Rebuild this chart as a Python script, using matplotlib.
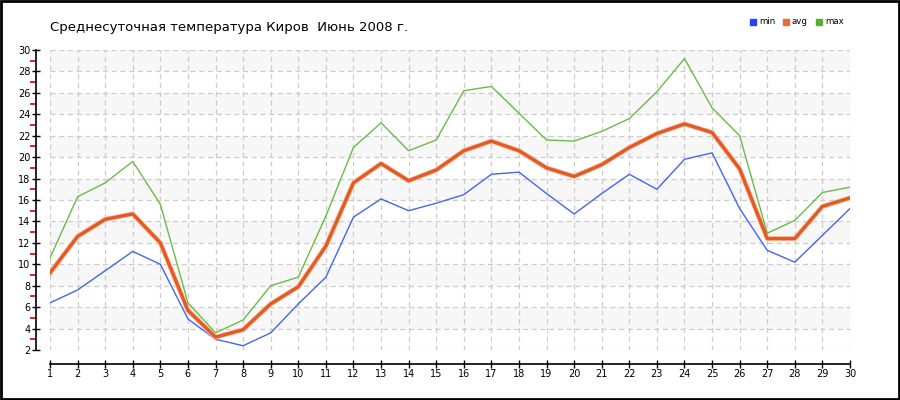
import matplotlib
matplotlib.use("Agg")
import matplotlib.pyplot as plt
from matplotlib.patches import Rectangle
from matplotlib.ticker import MultipleLocator
import numpy as np

days = list(range(1, 31))
t_min = [6.4, 7.6, 9.4, 11.2, 10.0, 4.9, 3.0, 2.4, 3.6, 6.3,
         8.8, 14.4, 16.1, 15.0, 15.7, 16.5, 18.4, 18.6, 16.6, 14.7,
         16.6, 18.4, 17.0, 19.8, 20.4, 15.2, 11.3, 10.2, 12.7, 15.2]
t_avg = [9.2, 12.6, 14.2, 14.7, 12.0, 5.7, 3.2, 3.9, 6.3, 7.9,
         11.7, 17.6, 19.4, 17.8, 18.8, 20.6, 21.5, 20.6, 19.0, 18.2,
         19.3, 20.9, 22.2, 23.1, 22.3, 18.9, 12.4, 12.4, 15.4, 16.2]
t_max = [10.6, 16.3, 17.6, 19.6, 15.6, 6.4, 3.6, 4.8, 8.0, 8.8,
         14.5, 20.9, 23.2, 20.6, 21.6, 26.2, 26.6, 24.1, 21.6, 21.5,
         22.4, 23.6, 26.1, 29.2, 24.6, 22.0, 12.9, 14.1, 16.7, 17.2]
title = "Среднесуточная температура Киров  Июнь 2008 г."
legend_labels = ["min", "avg", "max"]
colors = ["#4466ee", "#e45a24", "#6bbb48"]
legend_colors = ["#2244ee", "#ee6a30", "#55b030"]

fig = plt.figure(figsize=(9, 4), dpi=100)
ax = fig.add_axes([50/900, 50/400, 800/900, 300/400])

ax.set_xlim(1, 30)
ax.set_ylim(2, 30)

# alternating bands
for lo in range(4, 30, 4):
    ax.axhspan(lo, lo + 2, color="#f7f7f7", zorder=0, lw=0)

ax.grid(True, which="major", color="#cccccc", linestyle=(0, (4, 3)), linewidth=0.9, zorder=1)

ax.plot(days, t_min, color=colors[0], lw=1, zorder=3)
ax.plot(days, t_avg, color="#f6c2a8", lw=3.6, zorder=3)
ax.plot(days, t_avg, color=colors[1], lw=2.4, zorder=4)
ax.plot(days, t_max, color=colors[2], lw=1, zorder=3)

for s in ["top", "right"]:
    ax.spines[s].set_visible(False)
ax.spines["left"].set_position(("outward", 10))
ax.spines["bottom"].set_position(("outward", 10))
ax.spines["left"].set_linewidth(1.2)
ax.spines["bottom"].set_linewidth(1.2)

ax.xaxis.set_major_locator(MultipleLocator(1))
ax.yaxis.set_major_locator(MultipleLocator(2))
ax.yaxis.set_minor_locator(MultipleLocator(1))
ax.tick_params(axis="both", which="major", direction="inout", length=6, width=1,
               labelsize=7, pad=1, colors="black")
ax.tick_params(axis="y", which="minor", direction="out", length=4, width=1.2, color="#dd0000")

fig.text(50/900, 1 - 28/400, title, fontsize=9.5, va="center", ha="left")

lx = [750, 783, 816]
for x, lab, c in zip(lx, legend_labels, legend_colors):
    fig.patches.append(Rectangle((x/900, 1 - 25/400), 6/900, 6/400,
                                 transform=fig.transFigure, color=c))
    fig.text((x + 9)/900, 1 - 22/400, lab, fontsize=6.2, va="center", ha="left")

fig.patches.append(Rectangle((0.001, 0.002), 0.998, 0.996, transform=fig.transFigure,
                             fill=False, edgecolor="black", linewidth=2))

fig.savefig("out.png", dpi=100)
